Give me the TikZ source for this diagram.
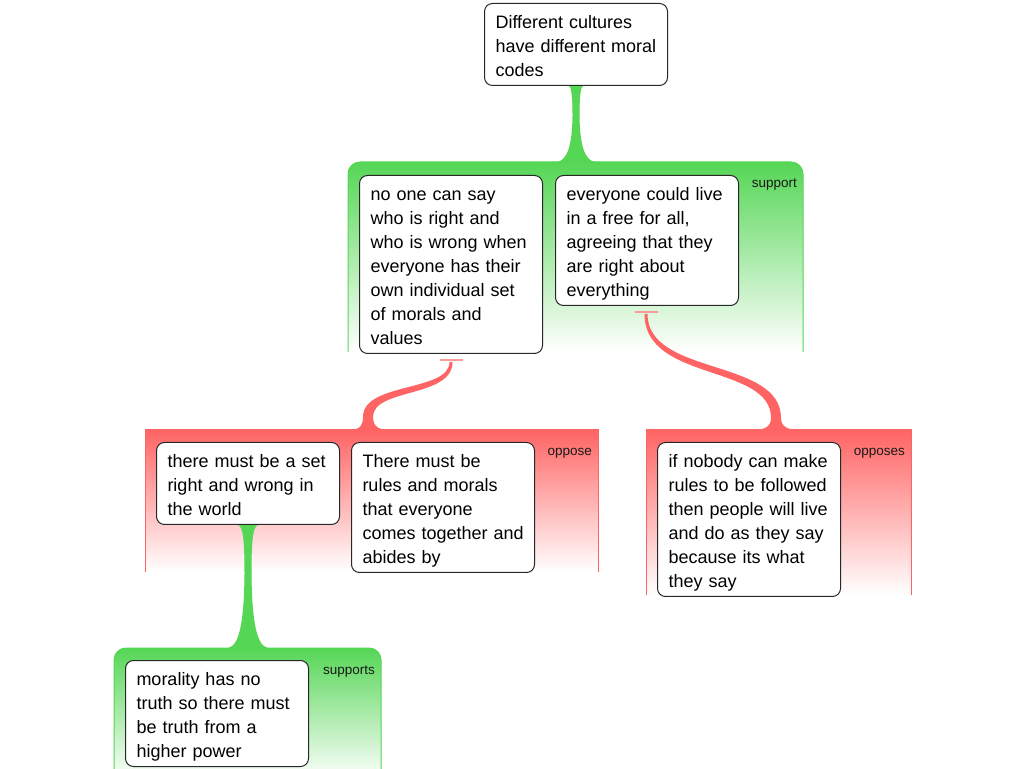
\documentclass[tikz,border=0pt]{standalone}
\usepackage{fontspec}
\setmainfont{Liberation Sans}
\usetikzlibrary{calc}
\definecolor{grn}{RGB}{85,214,85}
\definecolor{rd}{RGB}{255,100,100}
\definecolor{barc}{RGB}{248,155,155}
\definecolor{bd}{RGB}{40,40,40}
\pgfdeclarelayer{bg}
\pgfsetlayers{bg,main}
\newcommand\boxfont{\fontsize{18}{24}\selectfont\hyphenpenalty=10000\exhyphenpenalty=10000\hbadness=10000\hfuzz=20pt}
\newcommand\lblfont{\fontsize{13.5}{16}\selectfont}
\newcommand\fst{\rule{0pt}{25pt}}
\newcommand\lst{\rule[-9pt]{0pt}{9pt}}
% green trumpet connector: #1 from, #2 to, #3 top flare, #4 bottom flare
\newcommand\gconn[4]{%
 \fill[grn] let \p1=(#1), \p2=(#2) in
 (\x1-#3,\y1)
 .. controls (\x1-4.5pt,\y1) and (\x1-3.5pt,0.85*\y1+0.15*\y2) .. (\x1-3.5pt,0.6*\y1+0.4*\y2)
 .. controls (\x1-4pt,0.24*\y1+0.76*\y2) and (\x1-8pt,\y2+2pt) .. (\x1-#4,\y2)
 -- (\x1+#4,\y2)
 .. controls (\x1+8pt,\y2+2pt) and (\x1+4pt,0.24*\y1+0.76*\y2) .. (\x1+3.5pt,0.6*\y1+0.4*\y2)
 .. controls (\x1+3.5pt,0.85*\y1+0.15*\y2) and (\x1+4.5pt,\y1) .. (\x1+#3,\y1)
 -- cycle;}
\tikzset{
 box/.style={draw=bd, fill=white, rounded corners=8pt, line width=1pt,
   text width=161pt, inner xsep=11pt, inner ysep=0pt, align=left,
   anchor=north west, font=\boxfont, text=black},
 grp/.style={draw=none, inner sep=0pt, outer sep=0pt, anchor=north west},
 lbl/.style={font=\lblfont, anchor=base east, inner sep=0pt, text=black!90},
 barline/.style={draw=barc, line width=2pt},
}
\begin{document}
\begin{tikzpicture}[x=1pt,y=1pt]
\useasboundingbox (0,0) rectangle (1024,768);
\clip (0,0) rectangle (1024,768);
% group areas
\node[grp, minimum width=455pt, minimum height=190pt] (g1) at (348,606) {};
\node[grp, minimum width=453pt, minimum height=142pt] (g2) at (145,338) {};
\node[grp, minimum width=265pt, minimum height=165pt] (g3) at (646,338) {};
\node[grp, minimum width=267pt, minimum height=132pt] (g4) at (114,120) {};
% boxes
\node[box] (top) at (484,765) {\fst Different~cultures\\have~different~moral\\codes\lst};
\node[box] (A) at (359,593) {\fst no~one~can~say\\who~is~right~and\\who~is~wrong~when\\everyone~has~their\\own~individual~set\\of~morals~and\\values\lst};
\node[box] (B) at (555,593) {\fst everyone~could~live\\in~a~free~for~all,\\agreeing~that~they\\are~right~about\\everything\lst};
\node[box] (C) at (156,326) {\fst there~must~be~a~set\\right~and~wrong~in\\the~world\lst};
\node[box] (D) at (351,326) {\fst There~must~be\\rules~and~morals\\that~everyone\\\mbox{comes~together~and}\\abides~by\lst};
\node[box] (E) at (657,326) {\fst if~nobody~can~make\\rules~to~be~followed\\then~people~will~live\\and~do~as~they~say\\because~its~what\\they~say\lst};
\node[box] (F) at (125,108) {\fst morality~has~no\\truth~so~there~must\\be~truth~from~a\\higher~power\lst};
% labels
\node[lbl] (l1) at ($(g1.north east)+(-6,-26)$) {support};
\node[lbl] (l2) at ($(g2.north east)+(-6,-26)$) {oppose};
\node[lbl] (l3) at ($(g3.north east)+(-6,-26)$) {opposes};
\node[lbl] (l4) at ($(g4.north east)+(-6,-26)$) {supports};
% bars and connector ends
\coordinate (bA) at ($(A.south)+(0,-6)$);
\coordinate (bB) at ($(B.south)+(-1,-6)$);
\coordinate (sA) at ($(bA)+(0,-2)$);
\coordinate (sB) at ($(bB)+(0,-2)$);
\coordinate (eA) at ($(g2.north west)+(223,0)$);
\coordinate (eB) at ($(g3.north west)+(130,0)$);
\draw[barline] ($(bA)+(-11.5,0)$) -- ($(bA)+(11.5,0)$);
\draw[barline] ($(bB)+(-11.5,0)$) -- ($(bB)+(11.5,0)$);
\begin{pgfonlayer}{bg}
 % green groups (rounded top corners)
 \foreach \g in {g1,g4}{
  \shade[top color=grn, bottom color=white]
   (\g.south west) -- ([yshift=-12pt]\g.north west) arc[start angle=180,end angle=90,radius=12pt]
   -- ([xshift=-12pt]\g.north east) arc[start angle=90,end angle=0,radius=12pt]
   -- (\g.south east) -- cycle;
  \draw[grn, line width=1pt]
   (\g.south west) -- ([yshift=-12pt]\g.north west) arc[start angle=180,end angle=90,radius=12pt]
   -- ([xshift=-12pt]\g.north east) arc[start angle=90,end angle=0,radius=12pt]
   -- (\g.south east);
 }
 % red groups (square corners)
 \foreach \g in {g2,g3}{
  \shade[top color=rd, bottom color=white]
   (\g.south west) rectangle (\g.north east);
  \draw[rd, line width=1pt] (\g.south west) -- (\g.north west) -- (\g.north east) -- (\g.south east);
 }
 % green connectors
 \gconn{top.south}{g1.north}{7.5pt}{19pt}
 \gconn{C.south}{g4.north}{10.5pt}{20pt}
 % red connector B -> g3
 \fill[rd] let \p1=(sB), \p2=(eB) in
  (\x1-1.5pt,\y1) .. controls (\x1-1.5pt,\y1-68pt) and (\x2-5pt,\y2+66pt) .. (\x2-5pt,\y2+12pt)
  .. controls (\x2-5pt,\y2+3pt) and (\x2-12pt,\y2) .. (\x2-23pt,\y2)
  -- (\x2+24pt,\y2)
  .. controls (\x2+12pt,\y2) and (\x2+5pt,\y2+3pt) .. (\x2+5pt,\y2+12pt)
  .. controls (\x2+5pt,\y2+72pt) and (\x1+1.5pt,\y1-62pt) .. (\x1+1.5pt,\y1) -- cycle;
 % red connector A -> g2
 \fill[rd] let \p1=(sA), \p2=(eA) in
  (\x1-1.5pt,\y1) .. controls (\x1-1.5pt,\y1-30pt) and (\x2-5pt,\y2+48pt) .. (\x2-5pt,\y2+13pt)
  .. controls (\x2-5pt,\y2+3pt) and (\x2-10pt,\y2) .. (\x2-18pt,\y2)
  -- (\x2+19pt,\y2)
  .. controls (\x2+12pt,\y2) and (\x2+5pt,\y2+3pt) .. (\x2+5pt,\y2+13pt)
  .. controls (\x2+5pt,\y2+42pt) and (\x1+1.5pt,\y1-36pt) .. (\x1+1.5pt,\y1) -- cycle;
\end{pgfonlayer}
\end{tikzpicture}
\end{document}
